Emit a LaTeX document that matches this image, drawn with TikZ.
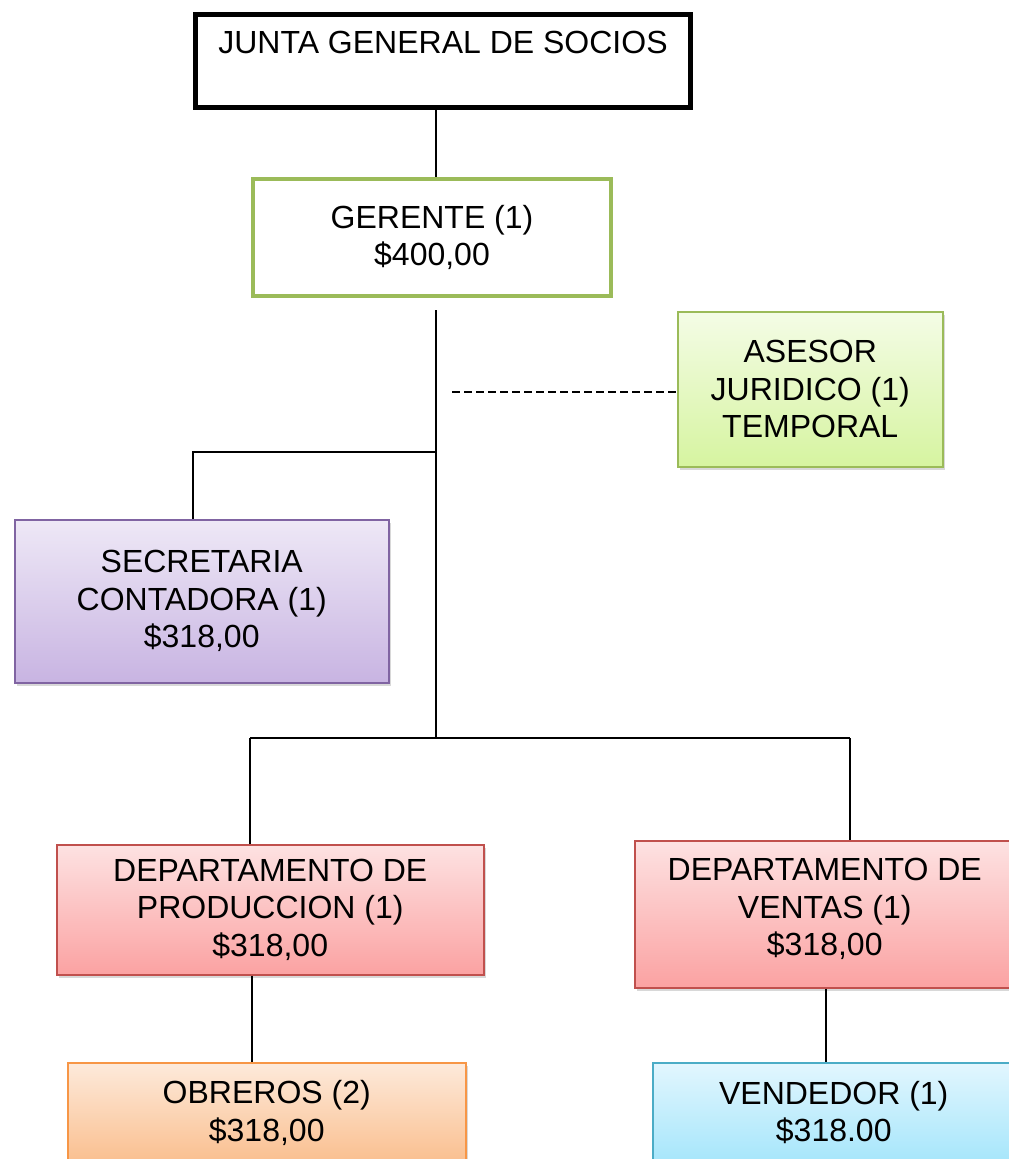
\documentclass[tikz,border=0pt]{standalone}
\usepackage{fontspec}
\setmainfont{Liberation Sans}
\usetikzlibrary{shadows}
\definecolor{grn}{HTML}{9BBB59}
\definecolor{purp}{HTML}{8064A2}
\definecolor{redb}{HTML}{C0504D}
\definecolor{orb}{HTML}{F79646}
\definecolor{blb}{HTML}{4BACC6}
\definecolor{asTop}{HTML}{F4FCE6}
\definecolor{asBot}{HTML}{D6F4A0}
\definecolor{seTop}{HTML}{EEE8F6}
\definecolor{seBot}{HTML}{C8B4E2}
\definecolor{deTop}{HTML}{FDE2E2}
\definecolor{deBot}{HTML}{FBA2A2}
\definecolor{obTop}{HTML}{FDEADB}
\definecolor{obBot}{HTML}{FABF8F}
\definecolor{veTop}{HTML}{E2F6FE}
\definecolor{veBot}{HTML}{A6E6FB}
\tikzset{
  box/.style={draw, rectangle, inner sep=0pt, align=center, anchor=north west,
    font=\fontsize{32}{37.5}\selectfont},
  soft/.style={box, line width=1.5pt,
    drop shadow={opacity=0.3, shadow xshift=2pt, shadow yshift=-3pt}},
  conn/.style={line width=2pt, black},
}
\begin{document}
\begin{tikzpicture}[x=1pt, y=-1pt]
\useasboundingbox (0,0) rectangle (1009,1159);
\fill[white] (0,0) rectangle (1009,1159);

\node[box, line width=5pt, minimum width=495pt, minimum height=93pt] (junta) at (193,12)
  {JUNTA GENERAL DE SOCIOS\\[0pt]\mbox{}};
\node[box, draw=grn, line width=4pt, minimum width=358pt, minimum height=117pt] (gerente) at (251,177)
  {GERENTE (1)\\\$400,00};
\node[soft, draw=grn, top color=asTop, bottom color=asBot, minimum width=265pt, minimum height=155pt] (asesor) at (677,311)
  {ASESOR\\JURIDICO (1)\\TEMPORAL};
\node[soft, draw=purp, top color=seTop, bottom color=seBot, minimum width=374pt, minimum height=163pt] (secretaria) at (14,519)
  {SECRETARIA\\CONTADORA (1)\\\$318,00};
\node[soft, draw=redb, top color=deTop, bottom color=deBot, minimum width=427pt, minimum height=130pt] (prod) at (56,844)
  {DEPARTAMENTO DE\\PRODUCCION (1)\\\$318,00};
\node[soft, draw=redb, top color=deTop, bottom color=deBot, minimum width=380pt, minimum height=147pt] (ventas) at (634,840)
  {DEPARTAMENTO DE\\VENTAS (1)\\\$318,00\\[-23.5pt]\mbox{}};
\node[soft, draw=orb, top color=obTop, bottom color=obBot, minimum width=398pt, minimum height=100pt] (obreros) at (67,1062)
  {OBREROS (2)\\\$318,00};
\node[soft, draw=blb, top color=veTop, bottom color=veBot, minimum width=362pt, minimum height=100pt] (vendedor) at (652,1062)
  {VENDEDOR (1)\\\$318.00};

\coordinate (g0) at (436,310);
\coordinate (jB) at (436,452);
\coordinate (jC) at (436,738);
\coordinate (sB) at (193,452);
\coordinate (pL) at (250,738);
\coordinate (pR) at (850,738);
\coordinate (dA) at (452,392);
\coordinate (ob) at (252,0);
\coordinate (vb) at (826,0);

\draw[conn] (junta.south -| jB) -- (gerente.north -| jB);
\draw[conn] (g0) -- (jC);
\draw[conn] (jB) -- (sB) -- (sB |- secretaria.north);
\draw[conn, dash pattern=on 8pt off 4pt] (dA) -- (dA -| asesor.west);
\draw[conn] (pL) -- (pR);
\draw[conn] (pL) -- (pL |- prod.north);
\draw[conn] (pR) -- (pR |- ventas.north);
\draw[conn] (ob |- prod.south) -- (ob |- obreros.north);
\draw[conn] (vb |- ventas.south) -- (vb |- vendedor.north);
\end{tikzpicture}
\end{document}
